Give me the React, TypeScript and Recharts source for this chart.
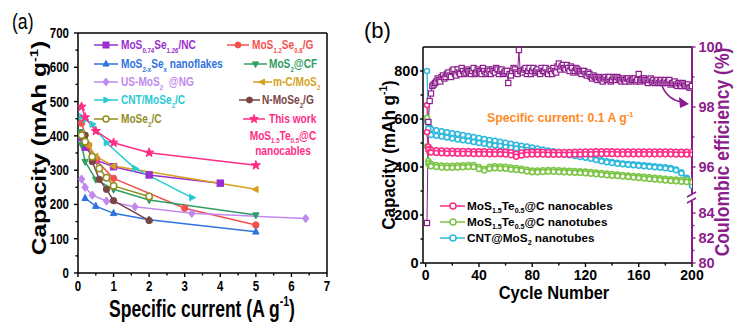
import React from "react";
import { ComposedChart, Line, XAxis, YAxis, ReferenceLine } from "recharts";

const FONT = "'Liberation Sans', Arial, Helvetica, sans-serif";

// (a) rate performance, [specific current (A g-1), capacity (mAh g-1)]
const mosSeNC = [[0.1, 395], [0.2, 367], [0.5, 330], [1, 310], [2, 286], [4, 262]];
const mosSeG = [[0.1, 437], [0.3, 373], [0.5, 330], [1, 276], [3, 189], [5, 140]];
const mosSexFlakes = [[0.2, 218], [0.5, 195], [1, 174], [2, 155], [5, 120]];
const mosCF = [[0.05, 412], [0.1, 374], [0.2, 325], [0.5, 273], [1, 244], [2, 213], [5, 169]];
const usMosNG = [[0.1, 274], [0.2, 250], [0.4, 227], [0.8, 210], [1.6, 193], [3.2, 174], [6.4, 159]];
const mcMos = [[0.1, 405], [0.2, 388], [0.3, 372], [0.5, 340], [1, 312], [5, 244]];
const cntMoseC = [[0.1, 456], [0.2, 448], [0.4, 434], [0.8, 380], [1.6, 305], [3.2, 220]];
const nMoseG = [[0.2, 402], [0.4, 325], [0.6, 273], [0.8, 244], [1, 211], [2, 153]];
const moseC = [[0.1, 402], [0.2, 383], [0.4, 339], [0.6, 305], [0.8, 278], [1, 254], [2, 223]];
const thisWork = [[0.1, 485], [0.2, 454], [0.5, 414], [1, 380], [2, 351], [5, 314]];

const aXTicks = [0, 0.5, 1, 1.5, 2, 2.5, 3, 3.5, 4, 4.5, 5, 5.5, 6, 6.5, 7];
const aYTicks = [0, 50, 100, 150, 200, 250, 300, 350, 400, 450, 500, 550, 600, 650, 700];

// (b) cycling at 0.1 A g-1
const cycles = [1, 2, 3, 4, 8, 12, 16, 20, 24, 28, 32, 36, 40, 44, 48, 52, 56, 60, 64, 68, 72, 76, 80, 84, 88, 92, 96, 100, 104, 108, 112, 116, 120, 124, 128, 132, 136, 140, 144, 148, 152, 156, 160, 164, 168, 172, 176, 180, 184, 188, 192, 196, 200];
const cablesDis = [658, 485, 476, 472, 470, 469, 468, 468, 467, 467, 467, 466, 466, 466, 465, 465, 465, 464, 461, 455, 460, 463, 464, 464, 464, 463, 463, 463, 463, 463, 464, 464, 465, 465, 466, 466, 466, 466, 465, 465, 465, 465, 465, 465, 465, 465, 465, 465, 465, 464, 464, 464, 464];
const cablesCha = [545, 472, 463, 460, 458, 457, 456, 456, 455, 455, 455, 454, 454, 454, 453, 453, 453, 452, 449, 443, 448, 451, 452, 452, 452, 451, 451, 451, 451, 451, 452, 452, 453, 453, 454, 454, 454, 454, 453, 453, 453, 453, 453, 453, 453, 453, 453, 453, 453, 452, 452, 452, 452];
const tubesDis = [605, 425, 415, 412, 408, 406, 405, 405, 406, 407, 408, 408, 400, 392, 401, 403, 402, 401, 398, 396, 393, 389, 385, 385, 386, 387, 387, 386, 385, 384, 383, 382, 381, 379, 377, 375, 373, 371, 369, 367, 365, 363, 361, 359, 357, 355, 353, 351, 349, 348, 346, 345, 343];
const tubesCha = [485, 415, 406, 403, 400, 398, 397, 397, 398, 399, 400, 400, 392, 385, 393, 395, 394, 393, 390, 388, 385, 381, 378, 378, 379, 380, 380, 379, 378, 377, 376, 375, 374, 372, 370, 368, 366, 364, 362, 360, 358, 356, 354, 352, 350, 348, 346, 344, 342, 341, 339, 338, 336];
const cntDis = [800, 590, 565, 558, 553, 549, 545, 541, 537, 533, 529, 525, 521, 517, 513, 509, 505, 501, 497, 493, 489, 485, 481, 477, 473, 469, 466, 463, 459, 455, 451, 447, 443, 438, 433, 428, 424, 421, 418, 415, 413, 411, 409, 407, 405, 403, 401, 399, 396, 390, 378, 355, 325];
const cntCha = [590, 560, 540, 533, 530, 527, 523, 519, 515, 511, 508, 504, 500, 497, 493, 490, 487, 483, 480, 477, 474, 471, 468, 465, 462, 459, 457, 455, 452, 449, 446, 442, 439, 434, 429, 424, 420, 417, 414, 411, 409, 407, 405, 403, 401, 399, 397, 395, 392, 386, 374, 352, 322];

// coulombic efficiency (%), even cycles and odd cycles
const ceCyclesEven = [1, 2, 3, 4, 5, 6, 8, 10, 12, 14, 16, 18, 20, 22, 24, 26, 28, 30, 32, 34, 36, 38, 40, 42, 44, 46, 48, 50, 52, 54, 56, 58, 60, 62, 64, 66, 68, 70, 72, 74, 76, 78, 80, 82, 84, 86, 88, 90, 92, 94, 96, 98, 100, 102, 104, 106, 108, 110, 112, 114, 116, 118, 120, 122, 124, 126, 128, 130, 132, 134, 136, 138, 140, 142, 144, 146, 148, 150, 152, 154, 156, 158, 160, 162, 164, 166, 168, 170, 172, 174, 176, 178, 180, 182, 184, 186, 188, 190, 192, 194, 196, 198, 200];
const ceValuesEven = [83.2, 97.5, 98.2, 98.45, 98.7, 98.75, 98.85, 98.9, 99.0, 98.95, 99.1, 99.05, 99.2, 99.1, 99.25, 99.1, 99.2, 99.15, 99.2, 99.1, 99.3, 99.15, 99.2, 99.1, 99.2, 99.15, 99.2, 99.25, 99.15, 99.25, 99.2, 99.1, 99.2, 98.8, 99.05, 99.3, 99.15, 99.9, 99.2, 99.25, 99.1, 99.3, 99.2, 99.15, 99.25, 99.1, 99.2, 99.3, 99.1, 99.2, 99.3, 99.15, 99.45, 99.35, 99.3, 99.4, 99.2, 99.3, 99.2, 99.25, 99.15, 99.2, 99.1, 99.15, 99.0, 99.05, 98.95, 99.0, 98.9, 98.95, 98.9, 99.0, 98.9, 98.95, 99.0, 98.9, 98.95, 98.85, 98.95, 98.9, 98.95, 98.85, 99.1, 98.9, 98.95, 98.85, 98.9, 98.85, 98.8, 98.9, 98.85, 98.8, 98.9, 98.85, 98.75, 98.8, 98.75, 98.8, 98.7, 98.75, 98.7, 98.65, 98.7];
const ceCyclesOdd = [7, 9, 11, 13, 15, 17, 19, 21, 23, 25, 27, 29, 31, 33, 35, 37, 39, 41, 43, 45, 47, 49, 51, 53, 55, 57, 59, 61, 63, 65, 67, 69, 71, 73, 75, 77, 79, 81, 83, 85, 87, 89, 91, 93, 95, 97, 99, 101, 103, 105, 107, 109, 111, 113, 115, 117, 119, 121, 123, 125, 127, 129, 131, 133, 135, 137, 139, 141, 143, 145, 147, 149, 151, 153, 155, 157, 159, 161, 163, 165, 167, 169, 171, 173, 175, 177, 179, 181, 183, 185, 187, 189, 191, 193, 195, 197, 199];
const ceValuesOdd = [98.8, 98.95, 98.85, 99.05, 99.0, 99.15, 99.0, 99.25, 99.05, 99.15, 99.3, 99.1, 99.25, 99.15, 99.2, 99.1, 99.25, 99.15, 99.3, 99.1, 99.25, 99.1, 99.2, 99.3, 99.1, 99.25, 99.15, 99.2, 99.1, 99.2, 99.25, 99.1, 99.2, 99.15, 99.3, 99.2, 99.1, 99.3, 99.2, 99.15, 99.3, 99.2, 99.15, 99.25, 99.1, 99.2, 99.35, 99.25, 99.4, 99.25, 99.3, 99.35, 99.15, 99.3, 99.2, 99.1, 99.2, 99.05, 99.1, 98.95, 99.0, 98.9, 98.95, 98.85, 99.0, 98.95, 98.85, 99.0, 98.9, 98.95, 98.85, 98.9, 98.95, 98.85, 98.9, 98.95, 98.9, 98.85, 98.95, 98.9, 98.8, 98.95, 98.9, 98.85, 98.8, 98.9, 98.85, 98.8, 98.9, 98.8, 98.85, 98.7, 98.75, 98.8, 98.7, 98.75, 98.65];

const bXTicks = [0, 20, 40, 60, 80, 100, 120, 140, 160, 180, 200];
const bYTicks = [0, 100, 200, 300, 400, 500, 600, 700, 800];
const ceTicks = [80, 81, 82, 83, 84, 96, 97, 98, 99, 100];

// broken right axis: 80-84 in the lower part, 96-100 in the upper part
function ceToY(v: number) {
  return v < 90 ? (v - 80) * 52.08 : 400 + (v - 96) * 125;
}

const PURPLE = "#8B1E8C";

const aSeries = [
  { id: "nc", pts: mosSeNC, color: "#9A2ED0", shape: "square" },
  { id: "g", pts: mosSeG, color: "#F4514E", shape: "circle" },
  { id: "fl", pts: mosSexFlakes, color: "#2F73E0", shape: "up" },
  { id: "cf", pts: mosCF, color: "#2F9E62", shape: "down" },
  { id: "ng", pts: usMosNG, color: "#C189EE", shape: "diamond" },
  { id: "mc", pts: mcMos, color: "#D6A21E", shape: "left" },
  { id: "cnt", pts: cntMoseC, color: "#27CBD1", shape: "right" },
  { id: "nm", pts: nMoseG, color: "#7A4545", shape: "circle" },
  { id: "mse", pts: moseC, color: "#8F8F1F", shape: "ocircle" },
  { id: "tw", pts: thisWork, color: "#FF2D83", shape: "star" },
];

const aLegend = [
  { i: 0, s: "MoS_{0.74}Se_{1.26}/NC", y: 45, l: 94, r: 118, tx: 121 },
  { i: 2, s: "MoS_{2-x}Se_{x} nanoflakes", y: 64, l: 94, r: 118, tx: 121 },
  { i: 4, s: "US-MoS_{2}  @NG", y: 82, l: 94, r: 118, tx: 121 },
  { i: 6, s: "CNT/MoSe_{2}/C", y: 100, l: 94, r: 118, tx: 121 },
  { i: 8, s: "MoSe_{2}/C", y: 119, l: 94, r: 118, tx: 121 },
  { i: 1, s: "MoS_{1.2}Se_{0.8}/G", y: 45, l: 227, r: 249, tx: 252 },
  { i: 3, s: "MoS_{2}@CF", y: 64, l: 244, r: 267, tx: 269 },
  { i: 5, s: "m-C/MoS_{2}", y: 82, l: 253, r: 272, tx: 273 },
  { i: 7, s: "N-MoSe_{2}/G", y: 100, l: 239, r: 260, tx: 262 },
  { i: 9, s: "This work", y: 119, l: 243, r: 265, tx: 269 },
];

const bSeries = [
  { key: "cntDis", color: "#2EB8DE" },
  { key: "cntCha", color: "#2EB8DE" },
  { key: "tubesDis", color: "#7CC444" },
  { key: "tubesCha", color: "#7CC444" },
  { key: "cablesDis", color: "#FF2B86" },
  { key: "cablesCha", color: "#FF2B86" },
];

const bLegend = [
  { s: "MoS_{1.5}Te_{0.5}@C nanocables", color: "#FF2B86", y: 206 },
  { s: "MoS_{1.5}Te_{0.5}@C nanotubes", color: "#7CC444", y: 222 },
  { s: "CNT@MoS_{2} nanotubes", color: "#2EB8DE", y: 238 },
];

const capRows = cycles.map((c, i) => ({
  cycle: c,
  cablesDis: cablesDis[i],
  cablesCha: cablesCha[i],
  tubesDis: tubesDis[i],
  tubesCha: tubesCha[i],
  cntDis: cntDis[i],
  cntCha: cntCha[i],
}));
const ceRows = [
  ...ceCyclesEven.map((c, i) => ({ cycle: c, ce: ceValuesEven[i] })),
  ...ceCyclesOdd.map((c, i) => ({ cycle: c, ce: ceValuesOdd[i] })),
].sort((a, b) => a.cycle - b.cycle);

function Mark({ cx, cy, shape, color, r = 3.5 }: any) {
  if (cx == null || cy == null) return null;
  const sw = 1;
  if (shape === "square")
    return <rect x={cx - r} y={cy - r} width={2 * r} height={2 * r} fill={color} stroke={color} strokeWidth={sw} />;
  if (shape === "osquare")
    return <rect x={cx - r} y={cy - r} width={2 * r} height={2 * r} fill="#fff" stroke={color} strokeWidth={1.2} />;
  if (shape === "circle") return <circle cx={cx} cy={cy} r={r} fill={color} stroke={color} strokeWidth={sw} />;
  if (shape === "ocircle") return <circle cx={cx} cy={cy} r={r} fill="#fff" stroke={color} strokeWidth={1.5} />;
  let pts = "";
  if (shape === "up") pts = `${cx},${cy - r * 1.2} ${cx + r},${cy + r * 0.7} ${cx - r},${cy + r * 0.7}`;
  if (shape === "down") pts = `${cx},${cy + r * 1.2} ${cx + r},${cy - r * 0.7} ${cx - r},${cy - r * 0.7}`;
  if (shape === "left") pts = `${cx - r * 1.2},${cy} ${cx + r * 0.7},${cy - r} ${cx + r * 0.7},${cy + r}`;
  if (shape === "right") pts = `${cx + r * 1.2},${cy} ${cx - r * 0.7},${cy - r} ${cx - r * 0.7},${cy + r}`;
  if (shape === "diamond") pts = `${cx},${cy - r * 1.3} ${cx + r},${cy} ${cx},${cy + r * 1.3} ${cx - r},${cy}`;
  if (shape === "star") {
    const p: string[] = [];
    for (let k = 0; k < 10; k++) {
      const rad = k % 2 === 0 ? r * 1.5 : r * 0.62;
      const a = -Math.PI / 2 + (k * Math.PI) / 5;
      p.push(`${cx + rad * Math.cos(a)},${cy + rad * Math.sin(a)}`);
    }
    pts = p.join(" ");
  }
  return <polygon points={pts} fill={color} stroke={color} strokeWidth={sw} />;
}

function rich(s: string, fs: number) {
  const parts = s.split(/([_^]\{[^}]*\})/).filter(Boolean);
  let shift = 0;
  return parts.map((p, i) => {
    let target = 0;
    let txt = p;
    let size = fs;
    if (p.startsWith("_{")) {
      target = 0.24 * fs;
      txt = p.slice(2, -1);
      size = fs * 0.6;
    } else if (p.startsWith("^{")) {
      target = -0.42 * fs;
      txt = p.slice(2, -1);
      size = fs * 0.6;
    }
    const dy = target - shift;
    shift = target;
    return (
      <tspan key={i} dy={dy} fontSize={size}>
        {txt}
      </tspan>
    );
  });
}

function T({ x, y, s, fs, color = "#000", anchor = "start", sx = 1, sy = 1, rot = 0, weight = 700 }: any) {
  return (
    <text
      transform={`translate(${x},${y}) rotate(${rot}) scale(${sx},${sy})`}
      fontSize={fs}
      fontWeight={weight}
      fill={color}
      textAnchor={anchor}
      fontFamily={FONT}
      style={{ whiteSpace: "pre" }}
    >
      {rich(s, fs)}
    </text>
  );
}

function Tick(props: any) {
  const { x = 0, y = 0, payload, side, major, fmt, fs, sx = 1, color = "#000", len = 4, mlen = 2.5, gap = 4 } = props;
  const v = payload ? payload.value : 0;
  const big = major(v);
  const l = big ? len : mlen;
  let x2 = x;
  let y2 = y;
  let tx = x;
  let ty = y;
  let anchor = "middle";
  if (side === "left") {
    x2 = x - l;
    tx = x - len - gap;
    ty = y + 0.36 * fs;
    anchor = "end";
  } else if (side === "right") {
    x2 = x + l;
    tx = x + len + gap;
    ty = y + 0.36 * fs;
    anchor = "start";
  } else {
    y2 = y + l;
    ty = y + len + gap + 0.72 * fs;
  }
  return (
    <g>
      <line x1={x} y1={y} x2={x2} y2={y2} stroke={color} strokeWidth={1.4} />
      {big && (
        <text
          transform={`translate(${tx},${ty}) scale(${sx},1)`}
          textAnchor={anchor}
          fontFamily={FONT}
          fontWeight={700}
          fontSize={fs}
          fill={color}
        >
          {fmt(v)}
        </text>
      )}
    </g>
  );
}

const isInt = (v: number) => Math.abs(v - Math.round(v)) < 1e-6;
const ceLabel = (v: number) => {
  const t = ceTicks.find((c) => Math.abs(ceToY(c) - v) < 0.01);
  return t == null ? "" : String(t);
};
const ceMajor = (v: number) => {
  const t = ceTicks.find((c) => Math.abs(ceToY(c) - v) < 0.01);
  return t != null && t % 2 === 0;
};

function PanelA() {
  return (
    <ComposedChart width={370} height={323} margin={{ top: 33, right: 43, bottom: 20, left: 38 }}>
      <XAxis
        type="number"
        dataKey="x"
        domain={[0, 7]}
        ticks={aXTicks}
        interval={0}
        height={30}
        tickSize={0}
        tickMargin={0}
        tickLine={false}
        allowDataOverflow
        axisLine={{ stroke: "#000", strokeWidth: 1.5 }}
        tick={<Tick side="bottom" major={isInt} fmt={String} fs={14} sx={0.82} len={4} gap={4} />}
      />
      <YAxis
        type="number"
        dataKey="y"
        domain={[0, 700]}
        ticks={aYTicks}
        interval={0}
        width={40}
        tickSize={0}
        tickMargin={0}
        tickLine={false}
        allowDataOverflow
        axisLine={{ stroke: "#000", strokeWidth: 1.5 }}
        tick={<Tick side="left" major={(v: number) => v % 100 === 0} fmt={String} fs={14} sx={0.82} len={4} gap={5} />}
      />
      <ReferenceLine y={700} stroke="#000" strokeWidth={1.5} />
      <ReferenceLine x={7} stroke="#000" strokeWidth={1.5} />
      {aSeries.map((s) => (
        <Line
          key={s.id}
          data={s.pts.map(([x, y]) => ({ x, y }))}
          dataKey="y"
          type="linear"
          stroke={s.color}
          strokeWidth={1.5}
          isAnimationActive={false}
          activeDot={false}
          dot={(p: any) => <Mark key={`${s.id}-${p.index}`} cx={p.cx} cy={p.cy} shape={s.shape} color={s.color} r={3.2} />}
        />
      ))}
    </ComposedChart>
  );
}

function PanelB() {
  return (
    <ComposedChart width={370} height={323} data={capRows} margin={{ top: 47, right: 8, bottom: 30, left: 13 }}>
      <XAxis
        type="number"
        dataKey="cycle"
        domain={[-2, 200]}
        ticks={bXTicks}
        interval={0}
        height={30}
        tickSize={0}
        tickMargin={0}
        tickLine={false}
        allowDataOverflow
        axisLine={{ stroke: "#000", strokeWidth: 1.5 }}
        tick={<Tick side="bottom" major={(v: number) => v % 40 === 0} fmt={String} fs={14} len={4} gap={2.5} />}
      />
      <YAxis
        yAxisId="left"
        type="number"
        domain={[0, 900]}
        ticks={bYTicks}
        interval={0}
        width={40}
        tickSize={0}
        tickMargin={0}
        tickLine={false}
        allowDataOverflow
        axisLine={{ stroke: "#000", strokeWidth: 1.5 }}
        tick={<Tick side="left" major={(v: number) => v % 200 === 0} fmt={String} fs={14.5} len={3} gap={1.5} />}
      />
      <YAxis
        yAxisId="ce"
        orientation="right"
        type="number"
        domain={[0, 900]}
        ticks={ceTicks.map(ceToY)}
        interval={0}
        width={40}
        tickSize={0}
        tickMargin={0}
        tickLine={false}
        allowDataOverflow
        axisLine={{ stroke: PURPLE, strokeWidth: 2 }}
        tick={<Tick side="right" major={ceMajor} fmt={ceLabel} fs={14.5} color={PURPLE} len={3.5} gap={3} />}
      />
      <ReferenceLine yAxisId="left" y={900} stroke="#000" strokeWidth={1.5} />
      {bSeries.map((s) => (
        <Line
          key={s.key}
          yAxisId="left"
          dataKey={s.key}
          type="linear"
          stroke={s.color}
          strokeWidth={1.3}
          isAnimationActive={false}
          activeDot={false}
          dot={(p: any) => <Mark key={`${s.key}-${p.index}`} cx={p.cx} cy={p.cy} shape="ocircle" color={s.color} r={2.5} />}
        />
      ))}
      <Line
        yAxisId="ce"
        data={ceRows}
        dataKey={(r: any) => ceToY(r.ce)}
        type="linear"
        stroke={PURPLE}
        strokeWidth={1}
        isAnimationActive={false}
        activeDot={false}
        dot={(p: any) => <Mark key={`ce-${p.index}`} cx={p.cx} cy={p.cy} shape="osquare" color={PURPLE} r={2.6} />}
      />
    </ComposedChart>
  );
}

function Overlay() {
  const fsA = 13;
  return (
    <svg width={740} height={323} style={{ position: "absolute", left: 0, top: 0, pointerEvents: "none" }}>
      <T x={12} y={28.5} s="(a)" fs={22} weight={400} sx={0.8} />
      <T x={364} y={38} s="(b)" fs={22} weight={400} />

      {/* panel (a) titles */}
      <T x={46} y={148} s="Capacity (mAh g^{-1})" fs={24.5} rot={-90} sy={0.8} anchor="middle" />
      <T x={202} y={316.5} s="Specific current (A g^{-1})" fs={24} sx={0.73} anchor="middle" />

      {/* panel (a) legend */}
      {aLegend.map((e) => {
        const s = aSeries[e.i];
        const mid = (e.l + e.r) / 2;
        return (
          <g key={s.id}>
            <line x1={e.l} x2={e.r} y1={e.y} y2={e.y} stroke={s.color} strokeWidth={1.5} />
            <Mark cx={mid} cy={e.y} shape={s.shape} color={s.color} r={3} />
            <T x={e.tx} y={e.y + 4.4} s={e.s} fs={fsA} sx={0.78} color={s.color} />
          </g>
        );
      })}
      <T x={283} y={139.5} s="MoS_{1.5}Te_{0.5}@C" fs={fsA} sx={0.78} color="#FF2D83" anchor="middle" />
      <T x={283} y={155} s="nanocables" fs={fsA} sx={0.78} color="#FF2D83" anchor="middle" />

      {/* panel (b) titles */}
      <T x={395} y={155} s="Capacity (mAh g^{-1})" fs={19} rot={-90} sx={0.9} anchor="middle" />
      <T x={729} y={152} s="Coulombic efficiency (%)" fs={19.5} rot={-90} sx={0.9} anchor="middle" color={PURPLE} />
      <T x={554} y={299} s="Cycle Number" fs={17.5} sx={0.94} anchor="middle" />
      <T x={487} y={122} s="Specific current: 0.1 A g^{-1}" fs={12.3} color="#FF8A1F" />

      {/* panel (b) legend */}
      {bLegend.map((e) => (
        <g key={e.s}>
          <line x1={440} x2={465} y1={e.y} y2={e.y} stroke={e.color} strokeWidth={1.5} />
          <Mark cx={453} cy={e.y} shape="ocircle" color={e.color} r={3} />
          <T x={467} y={e.y + 4.1} s={e.s} fs={11.8} />
        </g>
      ))}

      {/* axis break on the right axis */}
      <rect x={688} y={194} width={8} height={7} fill="#fff" />
      <line x1={687} y1={197} x2={696} y2={192} stroke={PURPLE} strokeWidth={1.5} />
      <line x1={687} y1={203} x2={696} y2={198} stroke={PURPLE} strokeWidth={1.5} />

      {/* arrow to the CE axis */}
      <path d="M 662 86 Q 668 100 682 102" fill="none" stroke={PURPLE} strokeWidth={1.6} />
      <polygon points="689,104 679,97 680,108" fill={PURPLE} />
    </svg>
  );
}

export default function App() {
  return (
    <div style={{ position: "absolute", left: 0, top: 0, width: 740, height: 323, background: "#fff", overflow: "hidden" }}>
      <div style={{ position: "absolute", left: 0, top: 0 }}>
        <PanelA />
      </div>
      <div style={{ position: "absolute", left: 370, top: 0 }}>
        <PanelB />
      </div>
      <Overlay />
    </div>
  );
}
